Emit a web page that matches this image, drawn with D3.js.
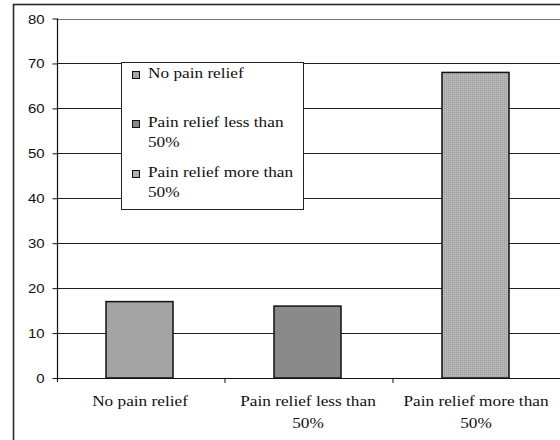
<!DOCTYPE html>
<html>
<head>
<meta charset="utf-8">
<script src="https://cdn.jsdelivr.net/npm/d3@7"></script>
<style>
  html, body { margin: 0; padding: 0; background: #fff; }
  svg { display: block; }
  .serif { font-family: "Liberation Serif", "Times New Roman", Times, serif; }
  .sans { font-family: "Liberation Sans", Arial, sans-serif; }
</style>
</head>
<body>
<svg id="chart" width="560" height="440"></svg>
<script>
// Pain relief outcome groups and the number of patients in each
const categories = ["No pain relief", "Pain relief less than 50%", "Pain relief more than 50%"];
const values = [17, 16, 68];
const yTicks = [0, 10, 20, 30, 40, 50, 60, 70, 80];
const categoryLines = [["No pain relief"], ["Pain relief less than", "50%"], ["Pain relief more than", "50%"]];

const svg = d3.select("#chart");
const margin = { left: 57, top: 18.5, right: 561, bottom: 378 };
const stretch = 1.15; // text is drawn slightly widened

// Fine dotted grey fill for the third group
const defs = svg.append("defs");
const pat = defs.append("pattern")
  .attr("id", "dots").attr("patternUnits", "userSpaceOnUse")
  .attr("width", 2).attr("height", 2);
pat.append("rect").attr("width", 2).attr("height", 2).attr("fill", "#b6b6b6");
pat.append("rect").attr("width", 1).attr("height", 1).attr("fill", "#9c9c9c");

const fills = ["#a4a4a4", "#8a8a8a", "url(#dots)"];

// Outer frame
svg.append("rect")
  .attr("x", 13.5).attr("y", 4.5).attr("width", 560).attr("height", 460)
  .attr("fill", "none").attr("stroke", "#2a2a2a").attr("stroke-width", 1.6);

const x = d3.scaleBand().domain(categories).range([margin.left, margin.right]).paddingInner(0).paddingOuter(0);
const y = d3.scaleLinear().domain([0, 80]).range([margin.bottom, margin.top]);

// Horizontal gridlines
svg.append("g").selectAll("line").data(yTicks.filter(d => d > 0)).join("line")
  .attr("x1", margin.left).attr("x2", 560)
  .attr("y1", d => Math.round(y(d)) + 0.5).attr("y2", d => Math.round(y(d)) + 0.5)
  .attr("stroke", d => d === 80 ? "#777" : "#1e1e1e").attr("stroke-width", 1.1);

// Y axis: line and ticks from d3.axisLeft, labels placed separately so they can be widened
const yAxis = svg.append("g")
  .attr("transform", `translate(${margin.left + 0.5},0)`)
  .call(d3.axisLeft(y).tickValues(yTicks).tickSize(5).tickFormat("").tickSizeOuter(0));
yAxis.select(".domain").attr("stroke", "#111").attr("stroke-width", 1.2)
  .attr("d", `M0,${y(80)}V${y(0) + 4}`);
yAxis.selectAll(".tick line").attr("stroke", "#111");
svg.append("g").attr("class", "sans").style("font-size", "13px").attr("fill", "#111")
  .attr("text-anchor", "end")
  .selectAll("text").data(yTicks).join("text")
  .attr("transform", d => `translate(44.5,${y(d) + 5}) scale(${stretch},1)`)
  .text(d => d);

// Bars
svg.append("g").selectAll("rect").data(values).join("rect")
  .attr("x", (d, i) => x(categories[i]) + 49)
  .attr("width", 67)
  .attr("y", d => y(d))
  .attr("height", d => y(0) - y(d))
  .attr("fill", (d, i) => fills[i])
  .attr("stroke", "#111").attr("stroke-width", 1.5);

// X axis line and category separators
svg.append("line")
  .attr("x1", margin.left).attr("x2", 560)
  .attr("y1", Math.round(y(0)) + 0.5).attr("y2", Math.round(y(0)) + 0.5)
  .attr("stroke", "#111").attr("stroke-width", 1.2);
svg.append("g").selectAll("line").data(categories.slice(1)).join("line")
  .attr("x1", d => x(d)).attr("x2", d => x(d))
  .attr("y1", y(0)).attr("y2", y(0) + 5)
  .attr("stroke", "#111");

// Category labels, wrapped onto two lines where long
const xl = svg.append("g").attr("class", "serif")
  .style("font-size", "15px").attr("fill", "#111").attr("text-anchor", "middle");
categories.forEach((c, i) => {
  const cx = x(c) + x.bandwidth() / 2 - 1;
  categoryLines[i].forEach((l, j) => {
    xl.append("text")
      .attr("transform", `translate(${cx},${406 + j * 22}) scale(${stretch},1)`)
      .text(l);
  });
});

// Legend
const lg = svg.append("g");
lg.append("rect")
  .attr("x", 121.5).attr("y", 62.5).attr("width", 182).attr("height", 147)
  .attr("fill", "#fff").attr("stroke", "#222").attr("stroke-width", 1);
const rowY = [78, 127, 177];
categoryLines.forEach((rows, i) => {
  lg.append("rect")
    .attr("x", 132.5).attr("y", rowY[i] - 6.5).attr("width", 7).attr("height", 7)
    .attr("fill", fills[i]).attr("stroke", "#111").attr("stroke-width", 1);
  rows.forEach((r, j) => {
    lg.append("text").attr("class", "serif")
      .style("font-size", "15px").attr("fill", "#111")
      .attr("transform", `translate(148,${rowY[i] + j * 20}) scale(${stretch},1)`)
      .text(r);
  });
});
</script>
</body>
</html>
